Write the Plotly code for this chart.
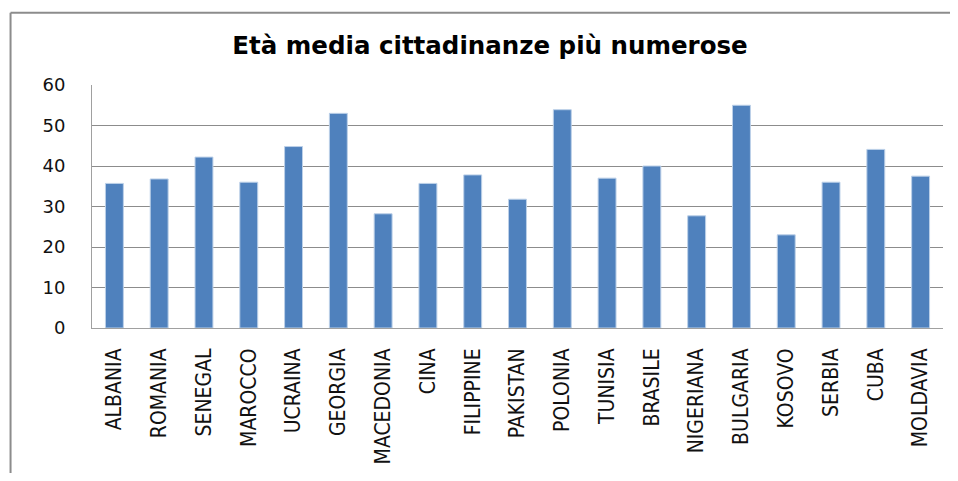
import plotly.graph_objects as go

categories = ["ALBANIA", "ROMANIA", "SENEGAL", "MAROCCO", "UCRAINA", "GEORGIA",
              "MACEDONIA", "CINA", "FILIPPINE", "PAKISTAN", "POLONIA", "TUNISIA",
              "BRASILE", "NIGERIANA", "BULGARIA", "KOSOVO", "SERBIA", "CUBA", "MOLDAVIA"]
values = [35.7, 36.8, 42.2, 36.0, 44.8, 53.0, 28.2, 35.7, 37.8, 31.8, 53.9, 37.0,
          40.0, 27.7, 55.0, 23.0, 36.0, 44.1, 37.5]
y_ticks = [0, 10, 20, 30, 40, 50, 60]

# page body has an 8px margin; work in page pixels minus 8
OFF = 8
W, H = 958 - OFF, 481 - 2 * OFF
ml = 91.5 - OFF
mt = 84.5 - OFF
mr = W - (943 - OFF)
mb = H - (328.3 - OFF)
pw = W - ml - mr
ph = H - mt - mb

fig = go.Figure()
fig.add_trace(go.Bar(
    x=categories, y=values,
    marker=dict(color="#4F81BD", line=dict(color="#BCD0E8", width=1)),
    width=0.4,
))

def px2x(px):
    return (px - OFF - ml) / pw

def py2y(py):
    return 1 - (py - OFF - mt) / ph

frame = dict(color="#8C8C8C", width=2)
fig.update_layout(
    width=W, height=H,
    margin=dict(l=ml, r=mr, t=mt, b=mb, autoexpand=False),
    paper_bgcolor="white", plot_bgcolor="white",
    showlegend=False,
    title=dict(text="<b>Età media cittadinanze più numerose</b>",
               x=(490 - OFF) / W, xanchor="center", xref="container",
               y=1 - (45 - OFF) / H, yanchor="middle", yref="container",
               font=dict(family="DejaVu Sans", size=24.5, color="black")),
    xaxis=dict(
        tickangle=-90, showgrid=False, showline=True, linecolor="#A0A0A0", linewidth=1,
        ticks="", tickfont=dict(family="Liberation Sans Narrow, DejaVu Sans Condensed, Arial", size=21, color="#111"),
        ticklabelstandoff=11, range=[-0.5, 18.5],
    ),
    yaxis=dict(
        range=[0, 60], tickvals=y_ticks, showgrid=True, gridcolor="#8C8C8C", gridwidth=1,
        showline=True, linecolor="#A0A0A0", linewidth=1, zeroline=False,
        ticks="", tickfont=dict(family="DejaVu Sans", size=18, color="#111"),
        ticklabelstandoff=22,
    ),
    shapes=[
        dict(type="line", xref="paper", yref="paper",
             x0=px2x(10), x1=px2x(958), y0=py2y(12), y1=py2y(12), line=frame, layer="below"),
        dict(type="line", xref="paper", yref="paper",
             x0=px2x(10), x1=px2x(10), y0=py2y(12), y1=py2y(480), line=frame, layer="below"),
    ],
)

fig.write_html("out.html")
